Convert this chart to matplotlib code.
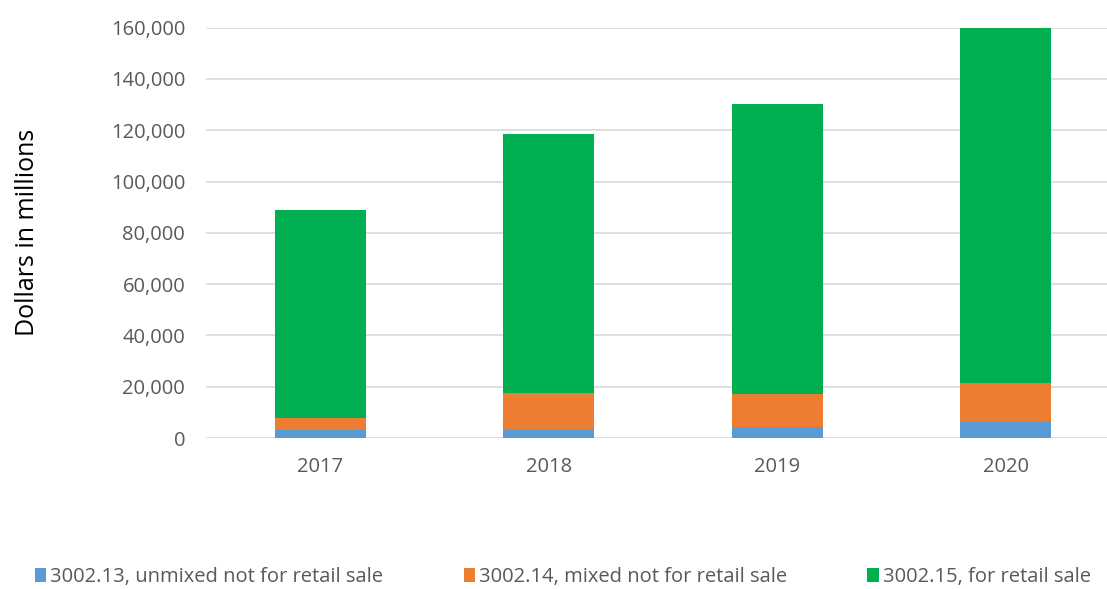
import matplotlib.pyplot as plt
from matplotlib.ticker import FuncFormatter

years = ["2017", "2018", "2019", "2020"]
unmixed = [3270, 3530, 4310, 6540]
mixed = [4440, 13860, 12690, 14900]
retail = [81360, 101180, 113150, 138560]

labels = [
    "3002.13, unmixed not for retail sale",
    "3002.14, mixed not for retail sale",
    "3002.15, for retail sale",
]
colors = ["#5B9BD5", "#ED7D31", "#00B050"]

plt.rcParams["font.family"] = ["Open Sans", "DejaVu Sans"]

fig = plt.figure(figsize=(11.07, 5.89), dpi=100)
ax = fig.add_axes([206 / 1107, 151 / 589, 901 / 1107, 410.3 / 589])

x = range(len(years))
bottom2 = [a + b for a, b in zip(unmixed, mixed)]
ax.bar(x, unmixed, width=0.4, color=colors[0], label=labels[0], zorder=3)
ax.bar(x, mixed, width=0.4, bottom=unmixed, color=colors[1], label=labels[1], zorder=3)
ax.bar(x, retail, width=0.4, bottom=bottom2, color=colors[2], label=labels[2], zorder=3)

ax.set_xlim(-0.5, 3.443)
ax.set_ylim(0, 160000)
ax.set_yticks(range(0, 160001, 20000))
ax.yaxis.set_major_formatter(FuncFormatter(lambda v, p: f"{int(v):,}"))
ax.set_xticks(list(x))
ax.set_xticklabels(years)

ax.grid(axis="y", color="#D9D9D9", linewidth=1.2, zorder=0)
for s in ax.spines.values():
    s.set_visible(False)
ax.tick_params(axis="both", length=0, labelsize=14.5, labelcolor="#595959")
ax.tick_params(axis="y", pad=15)
ax.tick_params(axis="x", pad=14)

ax.set_ylabel("Dollars in millions", fontsize=18, color="black")
ax.yaxis.set_label_coords(-0.184, 0.5)

ax.legend(loc="center", bbox_to_anchor=(0.396, -0.339), ncol=3, frameon=False,
          fontsize=14.5, labelcolor="#595959", handlelength=0.55, handleheight=0.7,
          handletextpad=0.2, columnspacing=4.0)

fig.savefig("out.png", dpi=100)
